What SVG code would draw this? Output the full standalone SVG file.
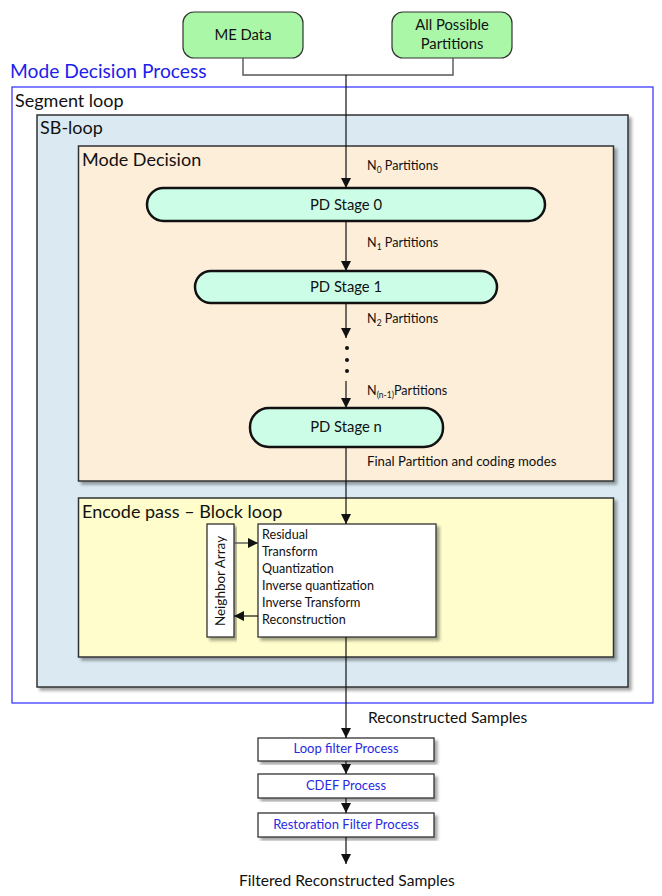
<svg xmlns="http://www.w3.org/2000/svg" width="662" height="896" viewBox="0 0 662 896">
<defs>
<style>
text{font-family:Lato,"Open Sans","Liberation Sans",sans-serif;fill:#111}
.h{font-size:18px}
.blue{fill:#2020e8}
.s{font-size:12.6px}
.m{font-size:14.8px}
.lb{font-size:15.6px}
.pd{fill:#ccfde6;stroke:#111;stroke-width:2.5}
.grp{stroke:#333;stroke-width:1.5}
.wb{fill:#fff;stroke:#333;stroke-width:1.3}
.ln{fill:none;stroke:#111;stroke-width:1.2}
.gl{fill:none;stroke:#555;stroke-width:1.4}
.fp{font-size:13px;fill:#2a2ae0}
</style>
<marker id="ah" viewBox="0 0 10 10" refX="10" refY="5" markerWidth="10" markerHeight="10" markerUnits="userSpaceOnUse" orient="auto">
<path d="M0,0 L10,5 L0,10 z" fill="#111"/>
</marker>
<filter id="sh" x="-5%" y="-5%" width="115%" height="120%">
<feDropShadow dx="3" dy="3" stdDeviation="1.5" flood-color="#000" flood-opacity="0.35"/>
</filter>
</defs>
<rect width="662" height="896" fill="#fff"/>

<g id="me-data">
<rect x="183" y="12" width="120" height="46" rx="11" fill="#aaf7a8" stroke="#333" stroke-width="1.2"/>
<text x="243" y="40" class="m" text-anchor="middle">ME Data</text>
</g>
<g id="all-partitions">
<rect x="392" y="12" width="120" height="46" rx="11" fill="#aaf7a8" stroke="#333" stroke-width="1.2"/>
<text x="452" y="30" class="m" text-anchor="middle">All Possible</text>
<text x="452" y="49" class="m" text-anchor="middle">Partitions</text>
</g>

<g id="mode-decision-process">
<text x="10" y="78" class="blue" style="font-size:19.2px">Mode Decision Process</text>
<rect x="12" y="87" width="641" height="616" fill="none" stroke="#2a2aff" stroke-width="1.2"/>
<text x="15" y="107" class="h">Segment loop</text>
</g>

<g id="sb-loop">
<rect x="37" y="115" width="591" height="572" fill="#dbeaf2" class="grp" filter="url(#sh)"/>
<text x="40" y="134" class="h">SB-loop</text>
</g>

<g id="mode-decision">
<rect x="78.5" y="146" width="535" height="335" fill="#fdeeda" class="grp" filter="url(#sh)"/>
<text x="82" y="166" class="h">Mode Decision</text>
</g>

<g id="encode-pass">
<rect x="78.5" y="498" width="535" height="159" fill="#fefdcb" class="grp" filter="url(#sh)"/>
<text x="82" y="518" class="h">Encode pass – Block loop</text>
</g>

<g id="pd-stage-0">
<rect x="147" y="188" width="398" height="33" rx="16.5" class="pd"/>
<text x="346" y="210" class="m" text-anchor="middle">PD Stage 0</text>
</g>
<g id="pd-stage-1">
<rect x="195" y="271" width="302" height="32" rx="16" class="pd"/>
<text x="346" y="292" class="m" text-anchor="middle">PD Stage 1</text>
</g>
<g id="pd-stage-n">
<rect x="250" y="408" width="193" height="39" rx="19" class="pd"/>
<text x="346" y="432" class="m" text-anchor="middle">PD Stage n</text>
</g>

<g id="neighbor-array">
<rect x="207" y="524" width="27" height="113" class="wb" filter="url(#sh)"/>
<text transform="translate(225,581) rotate(-90)" style="font-size:13.5px" text-anchor="middle">Neighbor Array</text>
</g>
<g id="block-ops">
<rect x="258" y="524" width="178" height="113" class="wb" filter="url(#sh)"/>
<text x="262" y="539" class="s">Residual</text>
<text x="262" y="556" class="s">Transform</text>
<text x="262" y="573" class="s">Quantization</text>
<text x="262" y="590" class="s">Inverse quantization</text>
<text x="262" y="607" class="s">Inverse Transform</text>
<text x="262" y="624" class="s">Reconstruction</text>
</g>

<g id="loop-filter">
<rect x="258" y="738" width="176" height="23" class="wb" filter="url(#sh)"/>
<text x="346" y="753" class="fp" text-anchor="middle">Loop filter Process</text>
</g>
<g id="cdef">
<rect x="258" y="774" width="176" height="24" class="wb" filter="url(#sh)"/>
<text x="346" y="790" class="fp" text-anchor="middle">CDEF Process</text>
</g>
<g id="restoration">
<rect x="258" y="813" width="176" height="24" class="wb" filter="url(#sh)"/>
<text x="346" y="829" class="fp" text-anchor="middle">Restoration Filter Process</text>
</g>

<g id="connectors">
<path d="M243,58 V75 H453 V58" class="gl"/>
<line x1="346" y1="75" x2="346" y2="188" class="ln" marker-end="url(#ah)"/>
<line x1="346" y1="221" x2="346" y2="271" class="ln" marker-end="url(#ah)"/>
<line x1="346" y1="303" x2="346" y2="338" class="ln" marker-end="url(#ah)"/>
<circle cx="347" cy="348" r="2" fill="#111"/>
<circle cx="347" cy="360" r="2" fill="#111"/>
<circle cx="347" cy="371" r="2" fill="#111"/>
<line x1="346" y1="381" x2="346" y2="408" class="ln" marker-end="url(#ah)"/>
<line x1="346" y1="447" x2="346" y2="524" class="ln" marker-end="url(#ah)"/>
<line x1="234" y1="543" x2="258" y2="543" class="gl" marker-end="url(#ah)"/>
<line x1="258" y1="616" x2="234" y2="616" class="ln" marker-end="url(#ah)"/>
<line x1="346" y1="637" x2="346" y2="738" class="ln" marker-end="url(#ah)"/>
<line x1="346" y1="761" x2="346" y2="774" class="ln" marker-end="url(#ah)"/>
<line x1="346" y1="798" x2="346" y2="813" class="ln" marker-end="url(#ah)"/>
<line x1="346" y1="837" x2="346" y2="864" class="ln" marker-end="url(#ah)"/>
<text x="367" y="170" class="s">N<tspan font-size="8.5" dy="3">0</tspan><tspan dy="-3"> Partitions</tspan></text>
<text x="367" y="247" class="s">N<tspan font-size="8.5" dy="3">1</tspan><tspan dy="-3"> Partitions</tspan></text>
<text x="367" y="323" class="s">N<tspan font-size="8.5" dy="3">2</tspan><tspan dy="-3"> Partitions</tspan></text>
<text x="367" y="395" class="s">N<tspan font-size="8.5" dy="3">(n-1)</tspan><tspan dy="-3">Partitions</tspan></text>
<text x="367" y="466" class="s" style="font-size:13.2px">Final Partition and coding modes</text>
<text x="368" y="723" class="lb">Reconstructed Samples</text>
<text x="239" y="886" class="lb">Filtered Reconstructed Samples</text>
</g>
</svg>
